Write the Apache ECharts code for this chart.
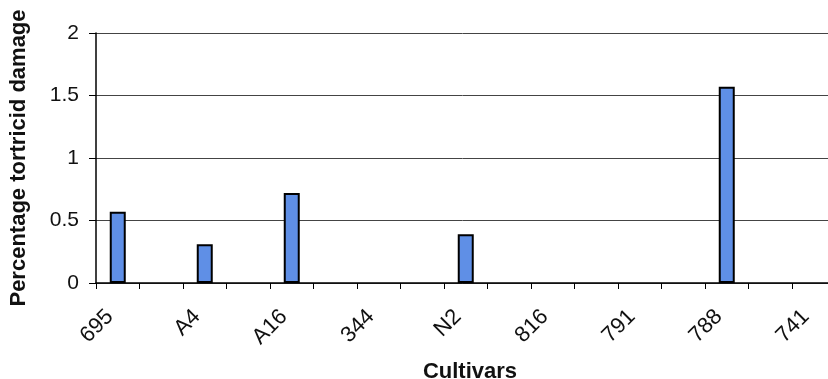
<!DOCTYPE html>
<html>
<head>
<meta charset="utf-8">
<script src="https://cdn.jsdelivr.net/npm/echarts@6/dist/echarts.min.js"></script>
<style>html,body{margin:0;padding:0;background:#fff}#c{width:828px;height:379px}</style>
</head>
<body>
<div id="c"></div>
<script>
// 18 category slots; only every other one carries a visible label
var categories = ['695','', 'A4','', 'A16','', '344','', 'N2','', '816','', '791','', '788','', '741',''];
var damage = [0.57, 0, 0.31, 0, 0.72, 0, 0, 0, 0.39, 0, 0, 0, 0, 0, 1.57, 0, 0, 0];
var yTicks = [0, 0.5, 1, 1.5, 2];

var barData = damage.map(function (v) {
  return v > 0 ? {value: v} : {value: v, itemStyle: {borderWidth: 0, opacity: 0}};
});

var chart = echarts.init(document.getElementById('c'), null, {renderer: 'canvas'});
chart.setOption({
  animation: false,
  backgroundColor: '#fff',
  title: {
    text: 'Cultivars',
    left: 465,
    top: 356,
    textAlign: 'center',
    textStyle: {fontFamily: 'Liberation Sans', fontWeight: 'bold', fontSize: 22, color: '#111'}
  },
  grid: {left: 96, top: 33, height: 250, width: 783, containLabel: false, outerBoundsMode: 'none'},
  xAxis: {
    type: 'category',
    data: categories,
    boundaryGap: true,
    axisLine: {lineStyle: {color: '#000', width: 1.5}},
    axisTick: {show: true, interval: 0, length: 6, lineStyle: {color: '#000', width: 1}},
    axisLabel: {
      interval: 0, rotate: 45, margin: 38, verticalAlign: 'bottom',
      fontFamily: 'Liberation Sans', fontSize: 22, color: '#111'
    },
    splitLine: {show: false}
  },
  yAxis: {
    type: 'value',
    min: yTicks[0], max: yTicks[yTicks.length - 1], interval: 0.5,
    name: 'Percentage tortricid damage',
    nameLocation: 'middle',
    nameGap: 66,
    nameTextStyle: {fontFamily: 'Liberation Sans', fontWeight: 'bold', fontSize: 22, color: '#111'},
    axisLine: {show: true, lineStyle: {color: '#000', width: 1.5}},
    axisTick: {show: true, length: 7, lineStyle: {color: '#000'}},
    axisLabel: {margin: 17, fontFamily: 'Liberation Sans', fontSize: 21, color: '#111'},
    splitLine: {show: true, lineStyle: {color: '#444', width: 1}}
  },
  series: [{
    type: 'bar',
    data: barData,
    barWidth: 16,
    itemStyle: {color: '#5f8fe6', borderColor: '#000', borderWidth: 2}
  }]
});
</script>
</body>
</html>
